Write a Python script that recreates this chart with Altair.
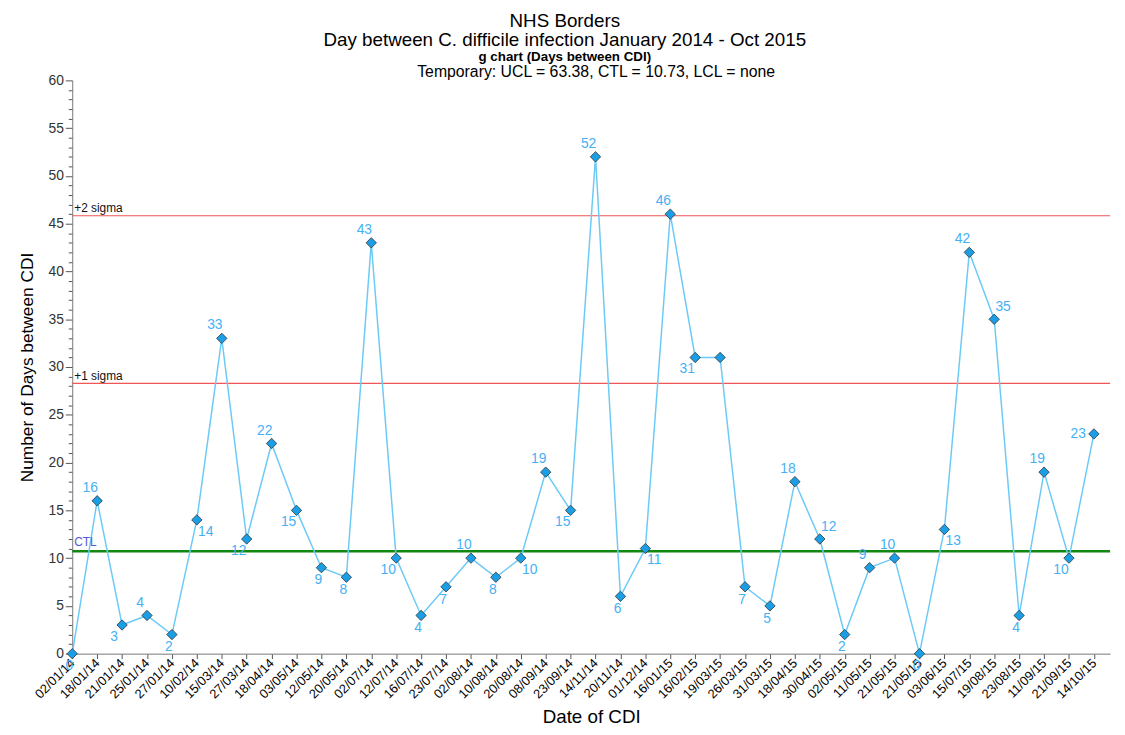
import altair as alt
import pandas as pd

dates = ["02/01/14", "18/01/14", "21/01/14", "25/01/14", "27/01/14", "10/02/14",
         "15/03/14", "27/03/14", "18/04/14", "03/05/14", "12/05/14", "20/05/14",
         "02/07/14", "12/07/14", "16/07/14", "23/07/14", "02/08/14", "10/08/14",
         "20/08/14", "08/09/14", "23/09/14", "14/11/14", "20/11/14", "01/12/14",
         "16/01/15", "16/02/15", "19/03/15", "26/03/15", "31/03/15", "18/04/15",
         "30/04/15", "02/05/15", "11/05/15", "21/05/15", "21/05/15", "03/06/15",
         "15/07/15", "19/08/15", "23/08/15", "11/09/15", "21/09/15", "14/10/15"]
days = [0, 16, 3, 4, 2, 14, 33, 12, 22, 15, 9, 8, 43, 10, 4, 7, 10, 8, 10, 19,
        15, 52, 6, 11, 46, 31, 31, 7, 5, 18, 12, 2, 9, 10, 0, 13, 42, 35, 4, 19, 10, 23]
# label placement: a=above, b=below, br=below-right, bl=below-left, ar=above-right, l=left, n=none
label_side = ["b", "a", "bl", "a", "b", "br", "a", "bl", "a", "bl", "b", "b",
              "a", "bl", "b", "b", "a", "b", "br", "a", "bl", "a", "b", "br",
              "a", "bl", "n", "b", "b", "a", "ar", "b", "a", "a", "b", "br",
              "a", "ar", "b", "a", "bl", "l"]

ref_names = ["+2 sigma", "+1 sigma", "CTL"]
ref_values = [45.83, 28.28, 10.73]

df = pd.DataFrame({"idx": list(range(len(days))), "date": dates, "days": days, "side": label_side})
ref_df = pd.DataFrame({"name": ref_names, "value": ref_values})

FONT = "Liberation Sans"
W, H = 1050, 580
XMAX = 41.65

label_expr = "[" + ",".join("'%s'" % d for d in dates) + "][datum.value]"

X_AXIS = alt.Axis(values=list(range(len(dates))), labelExpr=label_expr,
                  labelAngle=315, labelAlign="right", labelBaseline="middle",
                  labelOverlap=False, labelFontSize=13, labelColor="#000",
                  labelFont=FONT, tickSize=5, tickColor="#555", domainColor="#777",
                  grid=False, title="Date of CDI", titleFontSize=19,
                  titleFontWeight="normal", titleFont=FONT, titleColor="#000",
                  titlePadding=7, labelPadding=2)
Y_AXIS = alt.Axis(values=list(range(0, 61)),
                  labelExpr="datum.value % 5 === 0 ? datum.value : ''",
                  labelOverlap=False, labelFontSize=14, labelColor="#333",
                  labelFont=FONT,
                  tickSize={"condition": {"test": "datum.value % 5 === 0", "value": 7}, "value": 4},
                  tickColor="#555", domainColor="#777", grid=False,
                  title="Number of Days between CDI", titleFontSize=17.5,
                  titleFontWeight="normal", titleFont=FONT, titleColor="#000",
                  titlePadding=12)
X_SCALE = alt.Scale(domain=[0, XMAX], nice=False, zero=False)
Y_SCALE = alt.Scale(domain=[0, 60], nice=False)


def X(field):
    return alt.X(field, scale=X_SCALE, axis=X_AXIS)


def Y(field):
    return alt.Y(field, scale=Y_SCALE, axis=Y_AXIS)


base = alt.Chart(df)

line = base.mark_line(color="#6ccaf6", strokeWidth=1.5).encode(x=X("idx:Q"), y=Y("days:Q"))
pts = base.mark_point(shape="diamond", filled=True, size=110, fill="#1a9ee6",
                      stroke="#333", strokeWidth=0.8, opacity=1).encode(x=X("idx:Q"), y=Y("days:Q"))

offsets = {"a": (-7, -13, "center"), "b": (-3, 13, "center"), "br": (9, 12, "center"),
           "bl": (-8, 12, "center"), "ar": (9, -12, "center"), "l": (-8, 0, "right")}
label_layers = []
for side, (dx, dy, align) in offsets.items():
    label_layers.append(
        base.transform_filter(alt.datum.side == side).mark_text(
            dx=dx, dy=dy, align=align, baseline="middle", fontSize=14, font=FONT,
            color="#45b1f3").encode(x=X("idx:Q"), y=Y("days:Q"), text="days:Q"))

ref_base = alt.Chart(ref_df)
sig_rules = ref_base.transform_filter(alt.datum.name != "CTL").mark_rule(
    color="#f25555", strokeWidth=1.2).encode(y=Y("value:Q"))
ctl_rule = ref_base.transform_filter(alt.datum.name == "CTL").mark_rule(
    color="#118811", strokeWidth=2.5).encode(y=Y("value:Q"))
sig_text = ref_base.transform_filter(alt.datum.name != "CTL").mark_text(
    align="left", baseline="bottom", dx=2, dy=-1, fontSize=12, font=FONT, color="#111").encode(
    x=alt.value(0), y=Y("value:Q"), text="name:N")
ctl_text = ref_base.transform_filter(alt.datum.name == "CTL").mark_text(
    align="left", baseline="bottom", dx=2, dy=-2, fontSize=12, font=FONT, color="#5555dd").encode(
    x=alt.value(0), y=Y("value:Q"), text="name:N")

temp_text = alt.Chart(pd.DataFrame({"t": ["Temporary: UCL = 63.38, CTL = 10.73, LCL = none"]})).mark_text(
    fontSize=16, font=FONT, color="#000", baseline="bottom").encode(
    x=alt.value(W / 2 + 5), y=alt.value(0), text="t:N")

chart = alt.layer(sig_rules, ctl_rule, line, pts, *label_layers, sig_text, ctl_text, temp_text).properties(
    width=W, height=H,
    title=alt.TitleParams(
        text=["NHS Borders", "Day between C. difficile infection January 2014 - Oct 2015"],
        subtitle=["g chart (Days between CDI)"],
        fontSize=19, fontWeight="normal", font=FONT, color="#000", lineHeight=20,
        subtitleFontSize=13.5, subtitleFontWeight="bold", subtitleFont=FONT,
        subtitleColor="#000", subtitlePadding=0, offset=1, anchor="middle", frame="bounds"),
).configure(padding={"left": 10, "top": -1, "right": 5, "bottom": 0}).configure_view(stroke=None)

chart.save("out.html", embed_options={"renderer": "svg", "actions": False})
